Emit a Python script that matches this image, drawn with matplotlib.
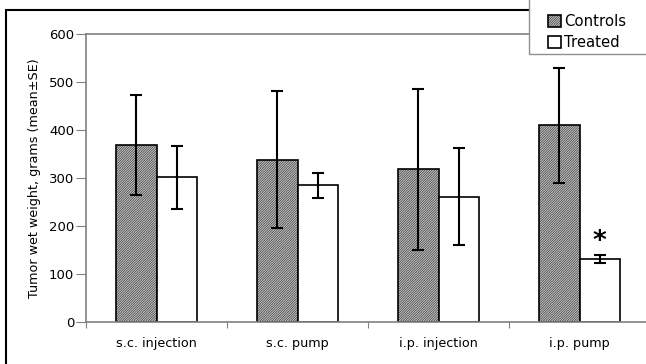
import numpy as np
import matplotlib
matplotlib.use('Agg')
import matplotlib.pyplot as plt
from matplotlib.patches import Rectangle

########## data ##########
groups = ['s.c. injection', 's.c. pump', 'i.p. injection', 'i.p. pump']
controls = [368, 338, 318, 410]
controls_se = [104, 143, 168, 120]
treated = [301, 285, 261, 131]
treated_se = [65, 26, 102, 8]
yticks = [0, 100, 200, 300, 400, 500, 600]

W, H = 646, 364
plt.rcParams['hatch.linewidth'] = 0.3

fig = plt.figure(figsize=(W / 100, H / 100), dpi=100)
# plot area is cut off on the right, like the original screenshot
ax = fig.add_axes([86 / W, 1 - 321.7 / H, (650 - 86) / W, (321.7 - 34) / H])

x = np.arange(len(groups))
bw = 0.287
ekw = dict(elinewidth=1.5, capthick=1.5, ecolor='black')
b1 = ax.bar(x - bw / 2, controls, bw, yerr=controls_se, capsize=4.6,
            facecolor='#bdbdbd', edgecolor='black', hatch='/' * 14,
            linewidth=1.2, error_kw=ekw, label='Controls')
b2 = ax.bar(x + bw / 2, treated, bw, yerr=treated_se, capsize=4.6,
            facecolor='white', edgecolor='black', linewidth=1.2,
            error_kw=ekw, label='Treated')

# significance mark
ax.text(x[3] + bw / 2, 166, '*', ha='center', va='center',
        fontsize=19, fontweight='bold')

ax.set_xlim(-0.5, len(groups) - 0.5)
ax.set_ylim(0, 600)
ax.set_yticks(yticks)
ax.set_xticks(np.arange(len(groups) + 1) - 0.5)
ax.set_xticklabels([])
ax.set_xticks(x, minor=True)
ax.set_xticklabels(groups, minor=True, fontsize=9.2)
ax.tick_params(axis='x', which='major', length=4, color='#808080', direction='out')
ax.tick_params(axis='x', which='minor', length=0, pad=11)
ax.tick_params(axis='y', length=7, pad=1.5, color='#808080', labelsize=9.5)

for s in ax.spines.values():
    s.set_color('#808080')
    s.set_linewidth(1.2)

ax.set_ylabel('Tumor wet weight, grams (mean\u00b1SE)', fontsize=9.2, labelpad=6)

# outer black frame of the chart
fig.patches.append(Rectangle((6 / W, -0.1), 1.2, 1 - 10 / H + 0.1,
                             transform=fig.transFigure, fill=False,
                             edgecolor='black', linewidth=1.5))

# legend box, cut off at the top and right like the original
fig.patches.append(Rectangle((529 / W, 1 - 54 / H), 0.3, 0.3,
                             transform=fig.transFigure, facecolor='white',
                             edgecolor='#909090', linewidth=1.0, zorder=5))
leg = fig.legend(handles=[b1, b2], loc='upper left',
                 bbox_to_anchor=(548 / W, 1 - 14.5 / H), fontsize=10.7,
                 frameon=False, borderpad=0, handlelength=0.85,
                 handleheight=0.85, handletextpad=0.25, labelspacing=0.4,
                 borderaxespad=0)
leg.set_zorder(6)

fig.savefig('out.png', dpi=100)
